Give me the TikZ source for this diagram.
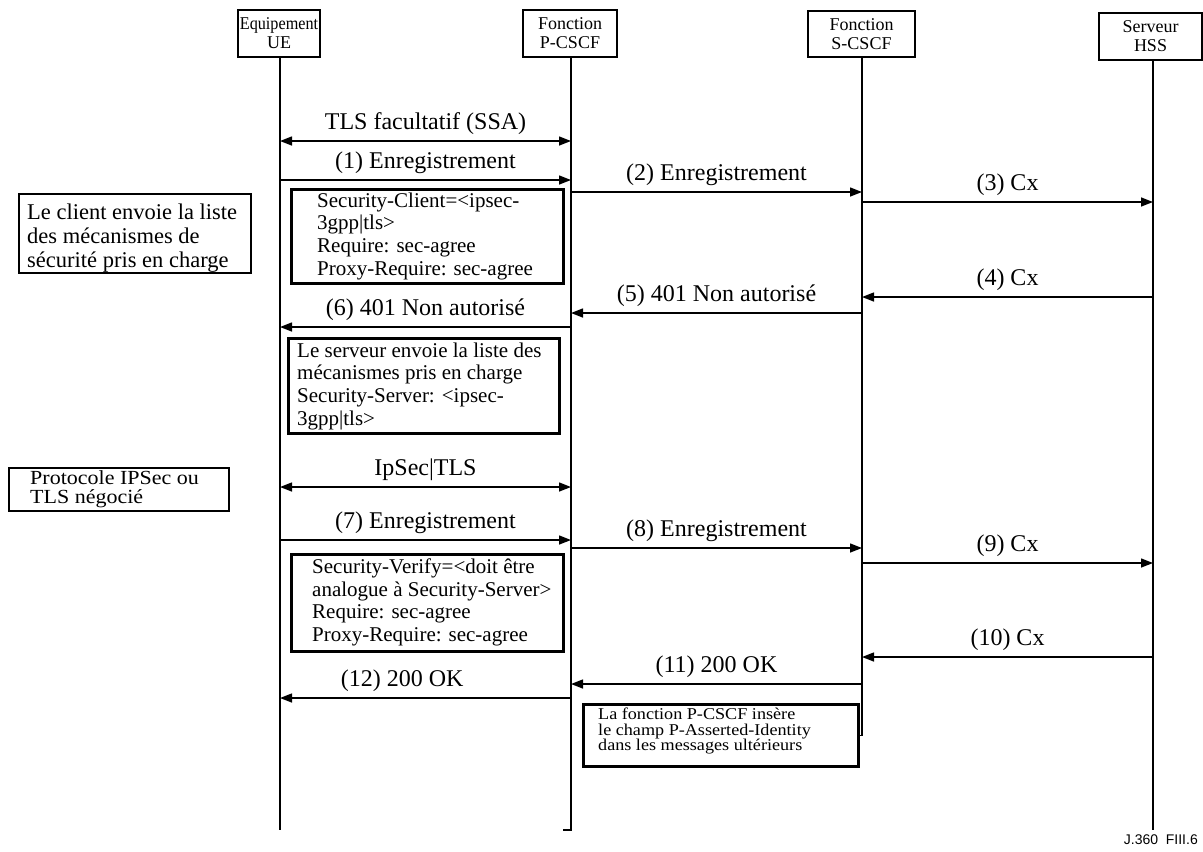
\documentclass[tikz,border=0pt]{standalone}
\usepackage{fontspec}
\setmainfont{Liberation Serif}
\newfontfamily\widefont[FakeStretch=1.1]{Liberation Serif}
\newfontfamily\narrowfont[FakeStretch=0.9]{Liberation Serif}
\newfontfamily\sansf{Liberation Sans}
\usetikzlibrary{arrows.meta,calc}
\begin{document}
\begin{tikzpicture}[x=1pt,y=-1pt,
  hdr/.style={draw,line width=2.2pt,inner sep=0pt,align=center,font=\fontsize{18}{19}\selectfont},
  life/.style={line width=1.6pt},
  msg/.style={line width=1.4pt,-{Triangle[length=12pt,width=9pt]}},
  dmsg/.style={line width=1.4pt,{Triangle[length=12pt,width=9pt]}-{Triangle[length=12pt,width=9pt]}},
  lbl/.style={above,inner sep=6pt,font=\fontsize{24}{26}\selectfont},
  frame/.style={draw,line width=2.6pt,inner sep=0pt,anchor=north west},
  note/.style={draw,line width=2pt,inner sep=0pt,anchor=north west},
  txt/.style={anchor=north west,inner sep=0pt,align=left,font=\fontsize{21}{22.7}\selectfont}]
\useasboundingbox (0,0) rectangle (1203,852);
% headers
\node[hdr,minimum width=82pt,minimum height=47pt] (ue) at (279,33.5) {{\narrowfont Equipement}\\UE};
\node[hdr,minimum width=94pt,minimum height=47pt] (pc) at (570,33.5) {Fonction\\P-CSCF};
\node[hdr,minimum width=107pt,minimum height=46pt] (sc) at (861.5,34) {Fonction\\S-CSCF};
\node[hdr,minimum width=103pt,minimum height=47pt] (hss) at (1150.5,36.5) {Serveur\\HSS};
% lifeline x positions
\coordinate (ueL) at (280,0);
\coordinate (pL) at (571,0);
\coordinate (sL) at (862,0);
\coordinate (hL) at (1153,0);
% boxes
\node[frame,minimum width=272pt,minimum height=94pt] (b1) at (290,188) {};
\node[frame,minimum width=271pt,minimum height=95pt] (b2) at (287,337) {};
\node[frame,minimum width=272pt,minimum height=97pt] (b3) at (290,553) {};
\node[frame,minimum width=275pt,minimum height=62pt] (b4) at (582,703) {};
\node[note,minimum width=232pt,minimum height=79pt] (n1) at (18,193) {};
\node[note,minimum width=220pt,minimum height=43pt] (n2) at (8,467) {};
% lifelines
\coordinate (ueEnd) at (280,830);
\coordinate (pEnd) at (571,830);
\coordinate (pTick) at (563,830);
\coordinate (hEnd) at (1153,830);
\draw[life] (ueEnd |- ue.south) -- (ueEnd);
\draw[life] (pEnd |- pc.south) -- (pEnd) -- (pTick);
\draw[life] (sL |- sc.south) |- (b4.east);
\draw[life] (hEnd |- hss.south) -- (hEnd);
% texts in boxes
\node[txt] (t1) at (317,192.5) {Security-Client=<ipsec-\\3gpp|tls>\\Require: sec-agree\\Proxy-Require: sec-agree};
\node[txt] (t2) at (297,342.5) {Le serveur envoie la liste des\\mécanismes pris en charge\\Security-Server: <ipsec-\\3gpp|tls>};
\node[txt] (t3) at (312,558.5) {Security-Verify=<doit être\\analogue à Security-Server>\\Require: sec-agree\\Proxy-Require: sec-agree};
\node[txt,font=\widefont\fontsize{16.5}{15.5}\selectfont] (t4) at (598,708) {La fonction P-CSCF insère\\le champ P-Asserted-Identity\\dans les messages ultérieurs};
\node[txt,font=\fontsize{22.5}{24}\selectfont] (tn1) at (27,204) {Le client envoie la liste\\des mécanismes de\\sécurité pris en charge};
\node[txt,font=\widefont\fontsize{20}{19}\selectfont] (tn2) at (30,470.5) {Protocole IPSec ou\\TLS négocié};
% messages
\draw[dmsg] (ueL |- 0,141) -- node[lbl]{TLS facultatif (SSA)} (pL |- 0,141);
\draw[msg] (ueL |- 0,180) -- node[lbl]{(1) Enregistrement} (pL |- 0,180);
\draw[msg] (pL |- 0,192) -- node[lbl]{(2) Enregistrement} (sL |- 0,192);
\draw[msg] (sL |- 0,202) -- node[lbl]{(3) Cx} (hL |- 0,202);
\draw[msg] (hL |- 0,297) -- node[lbl]{(4) Cx} (sL |- 0,297);
\draw[msg] (sL |- 0,313) -- node[lbl]{(5) 401 Non autorisé} (pL |- 0,313);
\draw[msg] (pL |- 0,327) -- node[lbl]{(6) 401 Non autorisé} (ueL |- 0,327);
\draw[dmsg] (ueL |- 0,487) -- node[lbl]{IpSec|TLS} (pL |- 0,487);
\draw[msg] (ueL |- 0,540) -- node[lbl]{(7) Enregistrement} (pL |- 0,540);
\draw[msg] (pL |- 0,548) -- node[lbl]{(8) Enregistrement} (sL |- 0,548);
\draw[msg] (sL |- 0,563) -- node[lbl]{(9) Cx} (hL |- 0,563);
\draw[msg] (hL |- 0,657) -- node[lbl]{(10) Cx} (sL |- 0,657);
\draw[msg] (sL |- 0,684) -- node[lbl]{(11) 200 OK} (pL |- 0,684);
\draw[msg] (pL |- 0,698) -- node[lbl,pos=0.58]{(12) 200 OK} (ueL |- 0,698);
\node[anchor=east,inner sep=0pt,font=\sansf\fontsize{14}{15}\selectfont] (ref) at (1198,840) {J.360\ \ FIII.6};
\end{tikzpicture}
\end{document}
